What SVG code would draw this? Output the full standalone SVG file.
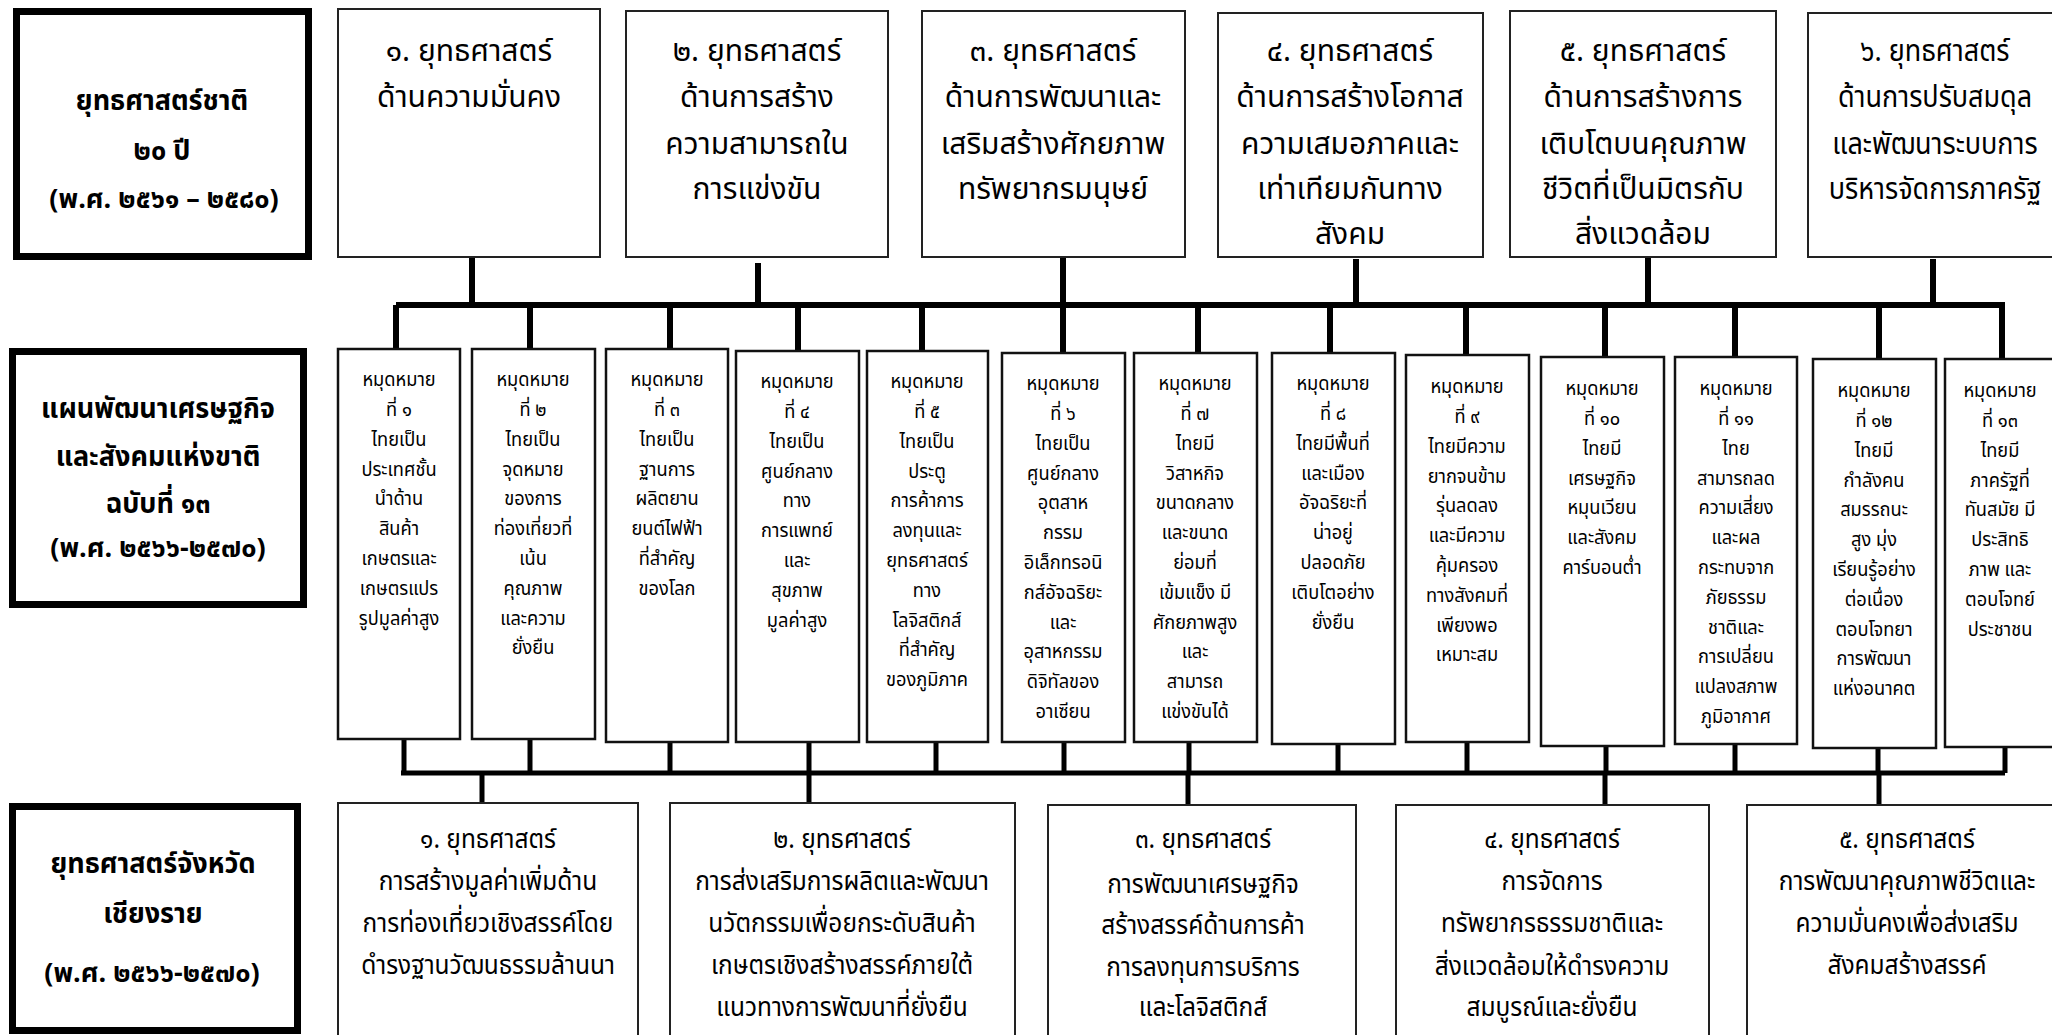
<svg xmlns="http://www.w3.org/2000/svg" width="2052" height="1035" viewBox="0 0 2052 1035">
<style>
.tb{fill:#fff;stroke:#000;stroke-width:7}
.bx{fill:#fff;stroke:#222;stroke-width:2}
.mb{fill:#fff;stroke:#111;stroke-width:2.5}
.c{stroke:#000;stroke-width:6;fill:none}
text{font-family:"Noto Sans Thai","Noto Sans",sans-serif;text-anchor:middle;fill:#000}
.ti{font-size:28px;font-weight:bold}
.ts{font-size:27px;font-weight:bold}
.top{font-size:30px}
.mid{font-size:19px}
.bot{font-size:27px}
</style>
<g id="connectors">
<path class="c" d="M396 305H2005M472 257V305M758 263V308M1063 257V305M1356 259V305M1648 257V305M1933 259V305"/>
<path class="c" d="M396 305V349M530 305V349M670 305V349M798 305V351M922 305V351M1063 305V353M1198 305V353M1330 305V353M1466 305V355M1605 305V357M1735 305V357M1879 305V359M2002 305V359"/>
<path class="c" style="stroke-width:5" d="M404 739V773M530 739V773M670 742V773M809 742V773M936 742V773M1064 742V773M1189 742V773M1338 744V773M1467 742V773M1606 746V773M1735 744V773M1878 748V773M2005 747V773M401 773H2005"/>
<path class="c" style="stroke-width:5" d="M482 773V803M809 773V803M1188 773V805M1605 773V805M1879 773V805"/>
</g>
<g id="title-national">
<rect class="tb" x="16.5" y="11.5" width="292" height="245"/>
<text class="ti" transform="translate(162 0) scale(0.965 1)"><tspan x="0" y="110">ยุทธศาสตร์ชาติ</tspan><tspan x="0" y="160">๒๐ ปี</tspan></text>
<text class="ts" transform="translate(164 0)"><tspan x="0" y="208">(พ.ศ. ๒๕๖๑ – ๒๕๘๐)</tspan></text>
</g>
<g id="title-plan">
<rect class="tb" x="12.5" y="351.5" width="291" height="253"/>
<text class="ti" transform="translate(158 0) scale(0.965 1)"><tspan x="0" y="418">แผนพัฒนาเศรษฐกิจ</tspan><tspan x="0" y="466">และสังคมแห่งขาติ</tspan><tspan x="0" y="513">ฉบับที่ ๑๓</tspan></text>
<text class="ts" transform="translate(158 0)"><tspan x="0" y="557">(พ.ศ. ๒๕๖๖-๒๕๗๐)</tspan></text>
</g>
<g id="title-province">
<rect class="tb" x="12.5" y="806.5" width="285" height="224"/>
<text class="ti" transform="translate(153 0) scale(0.965 1)"><tspan x="0" y="873">ยุทธศาสตร์จังหวัด</tspan><tspan x="0" y="923">เชียงราย</tspan></text>
<text class="ts" transform="translate(152 0)"><tspan x="0" y="982">(พ.ศ. ๒๕๖๖-๒๕๗๐)</tspan></text>
</g>
<g id="s1"><rect class="bx" x="338" y="9" width="262" height="248"/>
<text class="top" transform="translate(469 0)"><tspan x="0" y="61">๑. ยุทธศาสตร์</tspan><tspan x="0" y="107">ด้านความมั่นคง</tspan></text></g>
<g id="s2"><rect class="bx" x="626" y="11" width="262" height="246"/>
<text class="top" transform="translate(757 0)"><tspan x="0" y="61">๒. ยุทธศาสตร์</tspan><tspan x="0" y="107">ด้านการสร้าง</tspan><tspan x="0" y="154">ความสามารถใน</tspan><tspan x="0" y="199">การแข่งขัน</tspan></text></g>
<g id="s3"><rect class="bx" x="922" y="11" width="263" height="246"/>
<text class="top" transform="translate(1053 0)"><tspan x="0" y="61">๓. ยุทธศาสตร์</tspan><tspan x="0" y="107">ด้านการพัฒนาและ</tspan><tspan x="0" y="154">เสริมสร้างศักยภาพ</tspan><tspan x="0" y="199">ทรัพยากรมนุษย์</tspan></text></g>
<g id="s4"><rect class="bx" x="1218" y="13" width="265" height="244"/>
<text class="top" transform="translate(1350 0)"><tspan x="0" y="61">๔. ยุทธศาสตร์</tspan><tspan x="0" y="107">ด้านการสร้างโอกาส</tspan><tspan x="0" y="154">ความเสมอภาคและ</tspan><tspan x="0" y="199">เท่าเทียมกันทาง</tspan><tspan x="0" y="244">สังคม</tspan></text></g>
<g id="s5"><rect class="bx" x="1510" y="11" width="266" height="246"/>
<text class="top" transform="translate(1643 0)"><tspan x="0" y="61">๕. ยุทธศาสตร์</tspan><tspan x="0" y="107">ด้านการสร้างการ</tspan><tspan x="0" y="154">เติบโตบนคุณภาพ</tspan><tspan x="0" y="199">ชีวิตที่เป็นมิตรกับ</tspan><tspan x="0" y="244">สิ่งแวดล้อม</tspan></text></g>
<g id="s6"><rect class="bx" x="1808" y="13" width="262" height="244"/>
<text class="top" transform="translate(1935 0) scale(0.9 1)"><tspan x="0" y="61">๖. ยุทธศาสตร์</tspan><tspan x="0" y="107">ด้านการปรับสมดุล</tspan><tspan x="0" y="154">และพัฒนาระบบการ</tspan><tspan x="0" y="199">บริหารจัดการภาครัฐ</tspan></text></g>
<g id="m1"><rect class="mb" x="338" y="349" width="122" height="390"/>
<text class="mid" transform="translate(399 0) scale(0.96 1)"><tspan x="0" y="386">หมุดหมาย</tspan><tspan x="0" y="416">ที่ ๑</tspan><tspan x="0" y="446">ไทยเป็น</tspan><tspan x="0" y="476">ประเทศชั้น</tspan><tspan x="0" y="505">นำด้าน</tspan><tspan x="0" y="535">สินค้า</tspan><tspan x="0" y="565">เกษตรและ</tspan><tspan x="0" y="595">เกษตรแปร</tspan><tspan x="0" y="625">รูปมูลค่าสูง</tspan></text></g>
<g id="m2"><rect class="mb" x="472" y="349" width="123" height="390"/>
<text class="mid" transform="translate(533 0) scale(0.96 1)"><tspan x="0" y="386">หมุดหมาย</tspan><tspan x="0" y="416">ที่ ๒</tspan><tspan x="0" y="446">ไทยเป็น</tspan><tspan x="0" y="476">จุดหมาย</tspan><tspan x="0" y="505">ของการ</tspan><tspan x="0" y="535">ท่องเที่ยวที่</tspan><tspan x="0" y="565">เน้น</tspan><tspan x="0" y="595">คุณภาพ</tspan><tspan x="0" y="625">และความ</tspan><tspan x="0" y="654">ยั่งยืน</tspan></text></g>
<g id="m3"><rect class="mb" x="606" y="349" width="122" height="393"/>
<text class="mid" transform="translate(667 0) scale(0.96 1)"><tspan x="0" y="386">หมุดหมาย</tspan><tspan x="0" y="416">ที่ ๓</tspan><tspan x="0" y="446">ไทยเป็น</tspan><tspan x="0" y="476">ฐานการ</tspan><tspan x="0" y="505">ผลิตยาน</tspan><tspan x="0" y="535">ยนต์ไฟฟ้า</tspan><tspan x="0" y="565">ที่สำคัญ</tspan><tspan x="0" y="595">ของโลก</tspan></text></g>
<g id="m4"><rect class="mb" x="736" y="351" width="123" height="391"/>
<text class="mid" transform="translate(797 0) scale(0.96 1)"><tspan x="0" y="388">หมุดหมาย</tspan><tspan x="0" y="418">ที่ ๔</tspan><tspan x="0" y="448">ไทยเป็น</tspan><tspan x="0" y="478">ศูนย์กลาง</tspan><tspan x="0" y="507">ทาง</tspan><tspan x="0" y="537">การแพทย์</tspan><tspan x="0" y="567">และ</tspan><tspan x="0" y="597">สุขภาพ</tspan><tspan x="0" y="627">มูลค่าสูง</tspan></text></g>
<g id="m5"><rect class="mb" x="867" y="351" width="121" height="391"/>
<text class="mid" transform="translate(927 0) scale(0.96 1)"><tspan x="0" y="388">หมุดหมาย</tspan><tspan x="0" y="418">ที่ ๕</tspan><tspan x="0" y="448">ไทยเป็น</tspan><tspan x="0" y="478">ประตู</tspan><tspan x="0" y="507">การค้าการ</tspan><tspan x="0" y="537">ลงทุนและ</tspan><tspan x="0" y="567">ยุทธศาสตร์</tspan><tspan x="0" y="597">ทาง</tspan><tspan x="0" y="627">โลจิสติกส์</tspan><tspan x="0" y="656">ที่สำคัญ</tspan><tspan x="0" y="686">ของภูมิภาค</tspan></text></g>
<g id="m6"><rect class="mb" x="1002" y="353" width="123" height="389"/>
<text class="mid" transform="translate(1063 0) scale(0.96 1)"><tspan x="0" y="390">หมุดหมาย</tspan><tspan x="0" y="420">ที่ ๖</tspan><tspan x="0" y="450">ไทยเป็น</tspan><tspan x="0" y="480">ศูนย์กลาง</tspan><tspan x="0" y="509">อุตสาห</tspan><tspan x="0" y="539">กรรม</tspan><tspan x="0" y="569">อิเล็กทรอนิ</tspan><tspan x="0" y="599">กส์อัจฉริยะ</tspan><tspan x="0" y="629">และ</tspan><tspan x="0" y="658">อุสาหกรรม</tspan><tspan x="0" y="688">ดิจิทัลของ</tspan><tspan x="0" y="718">อาเซียน</tspan></text></g>
<g id="m7"><rect class="mb" x="1134" y="353" width="123" height="389"/>
<text class="mid" transform="translate(1195 0) scale(0.96 1)"><tspan x="0" y="390">หมุดหมาย</tspan><tspan x="0" y="420">ที่ ๗</tspan><tspan x="0" y="450">ไทยมี</tspan><tspan x="0" y="480">วิสาหกิจ</tspan><tspan x="0" y="509">ขนาดกลาง</tspan><tspan x="0" y="539">และขนาด</tspan><tspan x="0" y="569">ย่อมที่</tspan><tspan x="0" y="599">เข้มแข็ง มี</tspan><tspan x="0" y="629">ศักยภาพสูง</tspan><tspan x="0" y="658">และ</tspan><tspan x="0" y="688">สามารถ</tspan><tspan x="0" y="718">แข่งขันได้</tspan></text></g>
<g id="m8"><rect class="mb" x="1272" y="353" width="123" height="391"/>
<text class="mid" transform="translate(1333 0) scale(0.96 1)"><tspan x="0" y="390">หมุดหมาย</tspan><tspan x="0" y="420">ที่ ๘</tspan><tspan x="0" y="450">ไทยมีพื้นที่</tspan><tspan x="0" y="480">และเมือง</tspan><tspan x="0" y="509">อัจฉริยะที่</tspan><tspan x="0" y="539">น่าอยู่</tspan><tspan x="0" y="569">ปลอดภัย</tspan><tspan x="0" y="599">เติบโตอย่าง</tspan><tspan x="0" y="629">ยั่งยืน</tspan></text></g>
<g id="m9"><rect class="mb" x="1406" y="355" width="123" height="387"/>
<text class="mid" transform="translate(1467 0) scale(0.96 1)"><tspan x="0" y="393">หมุดหมาย</tspan><tspan x="0" y="423">ที่ ๙</tspan><tspan x="0" y="453">ไทยมีความ</tspan><tspan x="0" y="483">ยากจนข้าม</tspan><tspan x="0" y="512">รุ่นลดลง</tspan><tspan x="0" y="542">และมีความ</tspan><tspan x="0" y="572">คุ้มครอง</tspan><tspan x="0" y="602">ทางสังคมที่</tspan><tspan x="0" y="632">เพียงพอ</tspan><tspan x="0" y="661">เหมาะสม</tspan></text></g>
<g id="m10"><rect class="mb" x="1541" y="357" width="123" height="389"/>
<text class="mid" transform="translate(1602 0) scale(0.96 1)"><tspan x="0" y="395">หมุดหมาย</tspan><tspan x="0" y="425">ที่ ๑๐</tspan><tspan x="0" y="455">ไทยมี</tspan><tspan x="0" y="485">เศรษฐกิจ</tspan><tspan x="0" y="514">หมุนเวียน</tspan><tspan x="0" y="544">และสังคม</tspan><tspan x="0" y="574">คาร์บอนต่ำ</tspan></text></g>
<g id="m11"><rect class="mb" x="1675" y="357" width="122" height="387"/>
<text class="mid" transform="translate(1736 0) scale(0.96 1)"><tspan x="0" y="395">หมุดหมาย</tspan><tspan x="0" y="425">ที่ ๑๑</tspan><tspan x="0" y="455">ไทย</tspan><tspan x="0" y="485">สามารถลด</tspan><tspan x="0" y="514">ความเสี่ยง</tspan><tspan x="0" y="544">และผล</tspan><tspan x="0" y="574">กระทบจาก</tspan><tspan x="0" y="604">ภัยธรรม</tspan><tspan x="0" y="634">ชาติและ</tspan><tspan x="0" y="663">การเปลี่ยน</tspan><tspan x="0" y="693">แปลงสภาพ</tspan><tspan x="0" y="723">ภูมิอากาศ</tspan></text></g>
<g id="m12"><rect class="mb" x="1813" y="359" width="123" height="389"/>
<text class="mid" transform="translate(1874 0) scale(0.96 1)"><tspan x="0" y="397">หมุดหมาย</tspan><tspan x="0" y="427">ที่ ๑๒</tspan><tspan x="0" y="457">ไทยมี</tspan><tspan x="0" y="487">กำลังคน</tspan><tspan x="0" y="516">สมรรถนะ</tspan><tspan x="0" y="546">สูง มุ่ง</tspan><tspan x="0" y="576">เรียนรู้อย่าง</tspan><tspan x="0" y="606">ต่อเนื่อง</tspan><tspan x="0" y="636">ตอบโจทยา</tspan><tspan x="0" y="665">การพัฒนา</tspan><tspan x="0" y="695">แห่งอนาคต</tspan></text></g>
<g id="m13"><rect class="mb" x="1945" y="359" width="125" height="388"/>
<text class="mid" transform="translate(2000 0) scale(0.96 1)"><tspan x="0" y="397">หมุดหมาย</tspan><tspan x="0" y="427">ที่ ๑๓</tspan><tspan x="0" y="457">ไทยมี</tspan><tspan x="0" y="487">ภาครัฐที่</tspan><tspan x="0" y="516">ทันสมัย มี</tspan><tspan x="0" y="546">ประสิทธิ</tspan><tspan x="0" y="576">ภาพ และ</tspan><tspan x="0" y="606">ตอบโจทย์</tspan><tspan x="0" y="636">ประชาชน</tspan></text></g>
<g id="b1"><rect class="bx" x="338" y="803" width="300" height="240"/>
<text class="bot" transform="translate(488 0) scale(0.907 1)"><tspan x="0" y="848">๑. ยุทธศาสตร์</tspan><tspan x="0" y="890">การสร้างมูลค่าเพิ่มด้าน</tspan><tspan x="0" y="932">การท่องเที่ยวเชิงสรรค์โดย</tspan><tspan x="0" y="974">ดำรงฐานวัฒนธรรมล้านนา</tspan></text></g>
<g id="b2"><rect class="bx" x="670" y="803" width="345" height="240"/>
<text class="bot" transform="translate(842 0) scale(0.907 1)"><tspan x="0" y="848">๒. ยุทธศาสตร์</tspan><tspan x="0" y="890">การส่งเสริมการผลิตและพัฒนา</tspan><tspan x="0" y="932">นวัตกรรมเพื่อยกระดับสินค้า</tspan><tspan x="0" y="974">เกษตรเชิงสร้างสรรค์ภายใต้</tspan><tspan x="0" y="1016">แนวทางการพัฒนาที่ยั่งยืน</tspan></text></g>
<g id="b3"><rect class="bx" x="1048" y="805" width="308" height="240"/>
<text class="bot" transform="translate(1203 0) scale(0.907 1)"><tspan x="0" y="848">๓. ยุทธศาสตร์</tspan><tspan x="0" y="893">การพัฒนาเศรษฐกิจ</tspan><tspan x="0" y="934">สร้างสรรค์ด้านการค้า</tspan><tspan x="0" y="976">การลงทุนการบริการ</tspan><tspan x="0" y="1016">และโลจิสติกส์</tspan></text></g>
<g id="b4"><rect class="bx" x="1396" y="805" width="313" height="240"/>
<text class="bot" transform="translate(1552 0) scale(0.907 1)"><tspan x="0" y="848">๔. ยุทธศาสตร์</tspan><tspan x="0" y="890">การจัดการ</tspan><tspan x="0" y="932">ทรัพยากรธรรมชาติและ</tspan><tspan x="0" y="975">สิ่งแวดล้อมให้ดำรงความ</tspan><tspan x="0" y="1016">สมบูรณ์และยั่งยืน</tspan></text></g>
<g id="b5"><rect class="bx" x="1747" y="805" width="323" height="240"/>
<text class="bot" transform="translate(1907 0) scale(0.907 1)"><tspan x="0" y="848">๕. ยุทธศาสตร์</tspan><tspan x="0" y="890">การพัฒนาคุณภาพชีวิตและ</tspan><tspan x="0" y="932">ความมั่นคงเพื่อส่งเสริม</tspan><tspan x="0" y="974">สังคมสร้างสรรค์</tspan></text></g>
</svg>
